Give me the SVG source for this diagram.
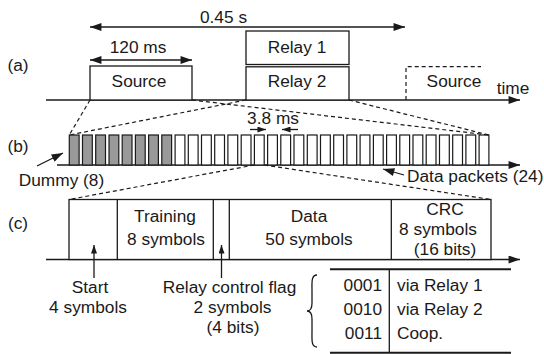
<svg xmlns="http://www.w3.org/2000/svg" width="544" height="354" viewBox="0 0 544 354">
<style>
text{font-family:"Liberation Sans",Arial,sans-serif;font-size:17.3px;fill:#1a1a1a}
.m{text-anchor:middle}
.e{text-anchor:end}
.box{fill:#fff;stroke:#1a1a1a;stroke-width:1.3}
.ax{stroke:#1a1a1a;stroke-width:1.5;fill:none}
.ln{stroke:#1a1a1a;stroke-width:1.3;fill:none}
.dash{stroke:#1a1a1a;stroke-width:1.2;fill:none;stroke-dasharray:4 3}
.pk{stroke:#1a1a1a;stroke-width:1.2}
.dm{fill:#999}
.dt{fill:#fff}
</style>
<defs>
<marker id="ah" viewBox="0 0 10 7" refX="10" refY="3.5" markerWidth="12" markerHeight="8" orient="auto-start-reverse" markerUnits="userSpaceOnUse"><path d="M0,0 L10,3.5 L0,7 z" fill="#1a1a1a"/></marker>
<marker id="as" viewBox="0 0 10 7" refX="10" refY="3.5" markerWidth="9" markerHeight="6" orient="auto-start-reverse" markerUnits="userSpaceOnUse"><path d="M0,0 L10,3.5 L0,7 z" fill="#1a1a1a"/></marker>
<g id="pkt"><rect width="9.8" height="30" class="pk"/></g>
</defs>

<!-- labels -->
<g id="labels">
<text x="18" y="71" class="m">(a)</text>
<text x="18" y="152" class="m">(b)</text>
<text x="18" y="229" class="m">(c)</text>
</g>

<!-- (a) -->
<g id="axis-a"><line x1="46" y1="100" x2="520" y2="100" class="ax" marker-end="url(#ah)"/><text x="513" y="94" class="m">time</text></g>
<g id="source1"><rect x="90" y="66" width="102" height="34" class="box"/><text x="139" y="87" class="m">Source</text></g>
<g id="relay1"><rect x="246" y="31" width="103" height="33.5" class="box"/><text x="297" y="53" class="m">Relay 1</text></g>
<g id="relay2"><rect x="246" y="66.8" width="103" height="33.2" class="box"/><text x="297" y="87" class="m">Relay 2</text></g>
<g id="source2"><path d="M406,100 V66.7 H481" class="dash" stroke-dasharray="3 2.5"/><text x="454" y="87" class="m">Source</text></g>
<g id="dim-045"><line x1="90" y1="27" x2="405" y2="27" class="ln" marker-start="url(#ah)" marker-end="url(#ah)"/><text x="223.5" y="23" class="m">0.45 s</text></g>
<g id="dim-120"><line x1="90" y1="60" x2="192" y2="60" class="ln" marker-start="url(#ah)" marker-end="url(#ah)"/><text x="138" y="53" class="m">120 ms</text></g>

<!-- (b) -->
<g id="packets">
<line x1="57" y1="165" x2="520" y2="165" class="ax" marker-end="url(#ah)"/>
<use href="#pkt" x="69.3" y="135" class="dm"/>
<use href="#pkt" x="82.5" y="135" class="dm"/>
<use href="#pkt" x="95.7" y="135" class="dm"/>
<use href="#pkt" x="109.0" y="135" class="dm"/>
<use href="#pkt" x="122.2" y="135" class="dm"/>
<use href="#pkt" x="135.4" y="135" class="dm"/>
<use href="#pkt" x="148.6" y="135" class="dm"/>
<use href="#pkt" x="161.8" y="135" class="dm"/>
<use href="#pkt" x="175.1" y="135" class="dt"/>
<use href="#pkt" x="188.3" y="135" class="dt"/>
<use href="#pkt" x="201.5" y="135" class="dt"/>
<use href="#pkt" x="214.7" y="135" class="dt"/>
<use href="#pkt" x="227.9" y="135" class="dt"/>
<use href="#pkt" x="241.2" y="135" class="dt"/>
<use href="#pkt" x="254.4" y="135" class="dt"/>
<use href="#pkt" x="267.6" y="135" class="dt"/>
<use href="#pkt" x="280.8" y="135" class="dt"/>
<use href="#pkt" x="294.0" y="135" class="dt"/>
<use href="#pkt" x="307.3" y="135" class="dt"/>
<use href="#pkt" x="320.5" y="135" class="dt"/>
<use href="#pkt" x="333.7" y="135" class="dt"/>
<use href="#pkt" x="346.9" y="135" class="dt"/>
<use href="#pkt" x="360.1" y="135" class="dt"/>
<use href="#pkt" x="373.4" y="135" class="dt"/>
<use href="#pkt" x="386.6" y="135" class="dt"/>
<use href="#pkt" x="399.8" y="135" class="dt"/>
<use href="#pkt" x="413.0" y="135" class="dt"/>
<use href="#pkt" x="426.2" y="135" class="dt"/>
<use href="#pkt" x="439.5" y="135" class="dt"/>
<use href="#pkt" x="452.7" y="135" class="dt"/>
<use href="#pkt" x="465.9" y="135" class="dt"/>
<use href="#pkt" x="479.1" y="135" class="dt"/>
</g>
<g id="dim-38"><line x1="250" y1="129.5" x2="266" y2="129.5" class="ln" marker-end="url(#as)"/><line x1="298" y1="129.5" x2="282" y2="129.5" class="ln" marker-end="url(#as)"/><text x="273" y="124" class="m">3.8 ms</text></g>
<g id="dummy"><line x1="37" y1="166" x2="63" y2="153" class="ln" marker-end="url(#ah)"/><text x="61.5" y="186" class="m">Dummy (8)</text></g>
<g id="datapk"><line x1="404" y1="175" x2="383" y2="169" class="ln" marker-end="url(#ah)"/><text x="407" y="182">Data packets (24)</text></g>

<!-- (c) -->
<g id="frame">
<line x1="46" y1="259.5" x2="520" y2="259.5" class="ax" marker-end="url(#ah)"/>
<rect x="69" y="199.5" width="422" height="60" class="box" fill="none"/>
<line x1="117.3" y1="199.5" x2="117.3" y2="259.5" class="ln"/>
<line x1="213.3" y1="199.5" x2="213.3" y2="259.5" class="ln"/>
<line x1="229.3" y1="199.5" x2="229.3" y2="259.5" class="ln"/>
<line x1="391.3" y1="199.5" x2="391.3" y2="259.5" class="ln"/>
</g>
<g id="training"><text x="165" y="222" class="m">Training</text><text x="166" y="245" class="m">8 symbols</text></g>
<g id="data"><text x="309" y="222" class="m">Data</text><text x="309" y="245" class="m">50 symbols</text></g>
<g id="crc"><text x="445" y="215" class="m">CRC</text><text x="438" y="235" class="m">8 symbols</text><text x="445" y="255" class="m">(16 bits)</text></g>
<g id="start"><line x1="94" y1="278" x2="94" y2="245" class="ln" marker-end="url(#as)"/><text x="90" y="293" class="m">Start</text><text x="88" y="313" class="m">4 symbols</text></g>
<g id="flag"><line x1="221.5" y1="278" x2="221.5" y2="245" class="ln" marker-end="url(#as)"/><text x="229.5" y="293" class="m">Relay control flag</text><text x="232.5" y="313" class="m">2 symbols</text><text x="233" y="333" class="m">(4 bits)</text></g>
<g id="brace"><path d="M317,275 C311,275 312,283 312,291 L312,303 C312,308 311,311 307,311 C311,311 312,314 312,319 L312,331 C312,339 311,347 317,347" class="ln" stroke-width="1.5"/></g>
<g id="table">
<line x1="330" y1="269.3" x2="511" y2="269.3" stroke="#1a1a1a" stroke-width="2"/>
<line x1="330" y1="352.7" x2="511" y2="352.7" stroke="#1a1a1a" stroke-width="2"/>
<line x1="389.3" y1="269.3" x2="389.3" y2="352.7" class="ln"/>
<text x="382" y="291" class="e">0001</text><text x="397" y="291">via Relay 1</text>
<text x="382" y="315" class="e">0010</text><text x="397" y="315">via Relay 2</text>
<text x="382" y="338.5" class="e">0011</text><text x="397" y="338.5">Coop.</text>
</g>

<!-- connectors -->
<g id="connectors">
<line x1="90" y1="100" x2="69.3" y2="135" class="dash"/>
<line x1="246" y1="100" x2="69.3" y2="135" class="dash"/>
<line x1="192" y1="100" x2="488.9" y2="135" class="dash"/>
<line x1="349" y1="100" x2="488.9" y2="135" class="dash"/>
<line x1="254.4" y1="165" x2="69" y2="199.5" class="dash"/>
<line x1="264.2" y1="165" x2="491" y2="199.5" class="dash"/>
</g>
</svg>
